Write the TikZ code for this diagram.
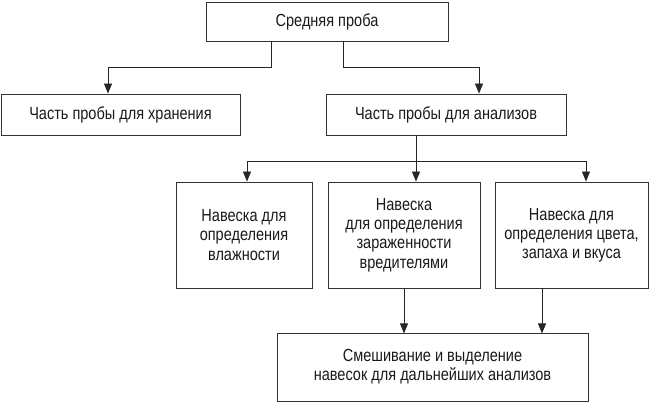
\documentclass[tikz,border=0pt]{standalone}
\usepackage{fontspec}
\setmainfont{Liberation Sans}[FakeStretch=0.83]
\usetikzlibrary{arrows.meta}
\begin{document}
\begin{tikzpicture}[x=1pt,y=-1pt,
  box/.style={draw=black!80, line width=0.9pt, rectangle, inner sep=0pt, align=center,
    font=\fontsize{17.5}{19.2}\selectfont, text=black!90},
  conn/.style={draw=black!85, line width=0.8pt},
  arr/.style={conn, -{Triangle[length=10pt,width=8pt]}}]
\useasboundingbox (0,0) rectangle (650,403);
\node[box, minimum width=242pt, minimum height=39pt] (top) at (327,21.5) {Средняя проба};
\node[box, minimum width=239pt, minimum height=41pt] (store) at (120.5,114.5) {Часть пробы для хранения};
\node[box, minimum width=240pt, minimum height=41pt] (ana) at (446,114.5) {Часть пробы для анализов};
\node[box, minimum width=136pt, minimum height=106pt] (w1) at (244,235) {Навеска для\\определения\\влажности};
\node[box, minimum width=152pt, minimum height=106pt] (w2) at (404,235) {Навеска\\для определения\\зараженности\\вредителями};
\node[box, minimum width=153pt, minimum height=106pt] (w3) at (571.5,235) {Навеска для\\определения цвета,\\запаха и вкуса};
\node[box, minimum width=311pt, minimum height=68pt] (mix) at (432.5,367) {Смешивание и выделение\\навесок для дальнейших анализов};
\draw[arr] ([xshift=-56pt]top.south) -- ++(0,26) -| ([xshift=-12.5pt]store.north);
\draw[arr] ([xshift=16pt]top.south) -- ++(0,26) -| ([xshift=33pt]ana.north);
\draw[arr] ([xshift=-30pt]ana.south) -- ([xshift=12pt]w2.north);
\coordinate (j) at ([xshift=-30pt,yshift=-26pt]ana.south);
\draw[arr] (j) -| ([xshift=3pt]w1.north);
\draw[arr] (j) -| ([xshift=14.5pt]w3.north);
\draw[arr] (w2.south) -- ++(0,45);
\draw[arr] ([xshift=-29.5pt]w3.south) -- ++(0,45);
\end{tikzpicture}
\end{document}
